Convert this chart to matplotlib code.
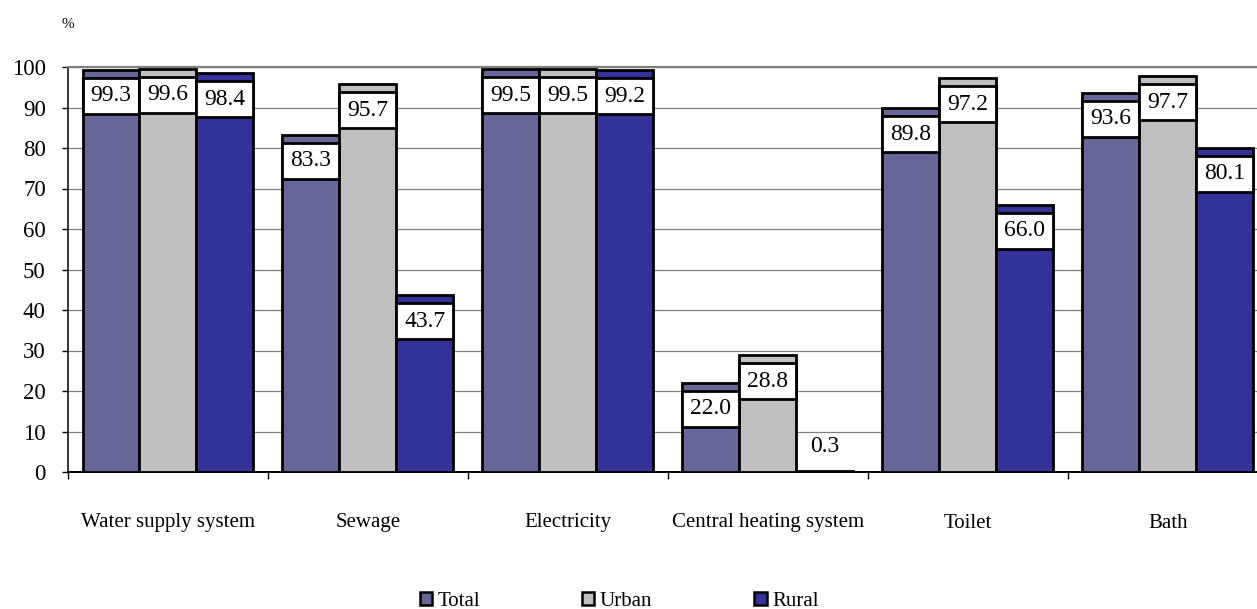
import matplotlib
matplotlib.use("Agg")
import matplotlib.pyplot as plt
from matplotlib.patches import Rectangle, Patch
import numpy as np

plt.rcParams['font.family'] = ['Liberation Serif', 'DejaVu Serif']

categories = ["Water supply system", "Sewage", "Electricity",
              "Central heating system", "Toilet", "Bath"]
series_names = ["Total", "Urban", "Rural"]
total = [99.3, 83.3, 99.5, 22.0, 89.8, 93.6]
urban = [99.6, 95.7, 99.5, 28.8, 97.2, 97.7]
rural = [98.4, 43.7, 99.2, 0.3, 66.0, 80.1]
y_ticks = [0, 10, 20, 30, 40, 50, 60, 70, 80, 90, 100]

colors = ["#666699", "#C0C0C0", "#333399"]

W, H, DPI = 1257, 609, 100
fig = plt.figure(figsize=(W / DPI, H / DPI), dpi=DPI)
ax = fig.add_axes([68 / W, 1 - 472 / H, 1200 / W, 405 / H])

ax.set_xlim(-0.5, len(categories) - 0.5)
ax.set_ylim(0, 100)

x = np.arange(len(categories))
bw = 0.285
offsets = [-bw, 0.0, bw]
all_series = [total, urban, rural]

px_per_unit = 405 / 100.0
box_gap = 8 / px_per_unit
box_h = 36 / px_per_unit

for vals, off, col in zip(all_series, offsets, colors):
    ax.bar(x + off, vals, width=bw, color=col, edgecolor="black",
           linewidth=2.0, zorder=3)
    for xi, v in zip(x, vals):
        cx = xi + off
        if v - box_gap - box_h > 0:
            top = v - box_gap
            ax.add_patch(Rectangle((cx - bw / 2, top - box_h), bw, box_h,
                                   facecolor="white", edgecolor="black",
                                   linewidth=2.0, zorder=4))
            ax.text(cx, top - box_h / 2, f"{v:.1f}", ha="center",
                    va="center", fontsize=17, zorder=5)
        else:
            ax.text(cx, v + 24 / px_per_unit, f"{v:.1f}", ha="center",
                    va="center", fontsize=17, zorder=5)

# grid and frame
ax.set_yticks(y_ticks)
ax.yaxis.grid(True, color="#808080", linewidth=0.9, zorder=0)
ax.set_axisbelow(True)
ax.spines["top"].set_color("#808080")
ax.spines["top"].set_linewidth(1.6)
ax.spines["right"].set_visible(False)
ax.spines["left"].set_color("black")
ax.spines["left"].set_linewidth(1.1)
ax.spines["bottom"].set_color("black")
ax.spines["bottom"].set_linewidth(1.4)
ax.tick_params(axis="y", direction="out", length=4.5, width=1,
               pad=11.5, labelsize=16.5)

# category boundary ticks, labels at centres
ax.set_xticks(np.arange(-0.5, len(categories), 1.0))
ax.set_xticklabels([])
ax.tick_params(axis="x", direction="out", length=5, width=1)
for xi, name in zip(x, categories):
    ax.annotate(name, xy=(xi, 0), xycoords="data",
                xytext=(0, -51 * 72 / DPI), textcoords="offset points",
                ha="center", va="center", fontsize=15)

fig.text(62 / W, 1 - 24 / H, "%", fontsize=11, ha="left", va="center")

handles = [Patch(facecolor=c, edgecolor="black", linewidth=1.8)
           for c in colors]
fig.legend(handles, series_names, loc="center",
           bbox_to_anchor=(619 / W, 1 - 601 / H), ncol=3, frameon=False,
           fontsize=15, handlelength=0.6, handleheight=0.6,
           handletextpad=0.25, columnspacing=4.9, borderpad=0.1)

fig.savefig("out.png", dpi=DPI)
